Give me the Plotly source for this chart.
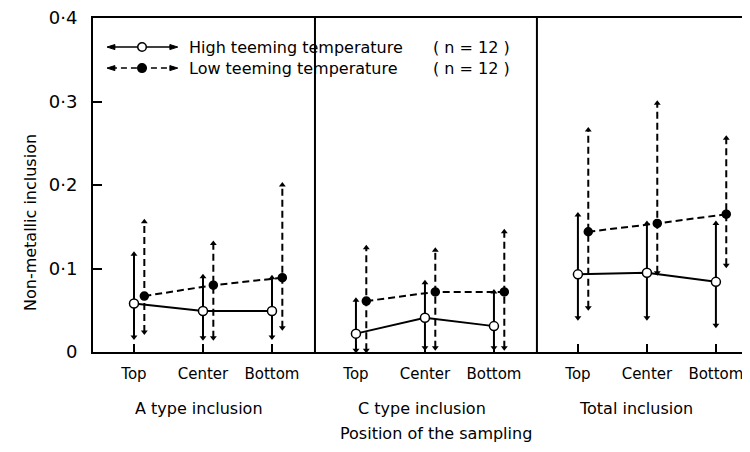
import plotly.graph_objects as go

# ---------------- data ----------------
positions = ["Top", "Center", "Bottom"]
panels = ["A type inclusion", "C type inclusion", "Total inclusion"]

# High teeming temperature (open circles, solid)
high_mean = [[0.058, 0.049, 0.049], [0.022, 0.041, 0.031], [0.093, 0.095, 0.084]]
high_max = [[0.117, 0.090, 0.089], [0.062, 0.083, 0.072], [0.164, 0.154, 0.154]]
high_min = [[0.018, 0.017, 0.018], [0.002, 0.005, 0.005], [0.041, 0.041, 0.032]]

# Low teeming temperature (filled circles, dashed)
low_mean = [[0.067, 0.080, 0.089], [0.061, 0.072, 0.072], [0.144, 0.154, 0.165]]
low_max = [[0.156, 0.130, 0.200], [0.125, 0.122, 0.144], [0.266, 0.298, 0.256]]
low_min = [[0.024, 0.017, 0.029], [0.002, 0.005, 0.005], [0.053, 0.095, 0.104]]

y_ticks = [0, 0.1, 0.2, 0.3, 0.4]
y_ticktext = ["0", "0·1", "0·2", "0·3", "0·4"]

# ---------------- layout geometry ----------------
PANEL_W = 3.217      # width of one panel in x units
LEFT_PAD = 0.594     # space left of first category
LOW_SHIFT = 0.15     # horizontal shift of the low-temperature series
FONT = "DejaVu Sans"

def xs(k, shift=0.0):
    return [k * PANEL_W + i + shift for i in range(len(positions))]

fig = go.Figure()

def add_series(mean, vmax, vmin, shift, dash, fill, name):
    lx, ly, bx, by = [], [], [], []
    upx, upy, dnx, dny = [], [], [], []
    for k in range(len(panels)):
        x = xs(k, shift)
        lx += x + [None]
        ly += mean[k] + [None]
        for xi, lo, hi in zip(x, vmin[k], vmax[k]):
            bx += [xi, xi, None]
            by += [lo, hi, None]
            upx.append(xi); upy.append(hi)
            dnx.append(xi); dny.append(lo)
    # range bars
    fig.add_trace(go.Scatter(x=bx, y=by, mode="lines",
                             line=dict(color="black", width=2, dash=dash),
                             showlegend=False, hoverinfo="skip"))
    # arrow heads
    fig.add_trace(go.Scatter(x=upx, y=upy, mode="markers",
                             marker=dict(symbol="triangle-up", size=6, color="black"),
                             showlegend=False, hoverinfo="skip"))
    fig.add_trace(go.Scatter(x=dnx, y=dny, mode="markers",
                             marker=dict(symbol="triangle-down", size=6, color="black"),
                             showlegend=False, hoverinfo="skip"))
    # mean line with markers
    fig.add_trace(go.Scatter(x=lx, y=ly, mode="lines+markers", name=name,
                             line=dict(color="black", width=2, dash=dash),
                             marker=dict(symbol="circle", size=9 if fill == "white" else 8,
                                         color=fill, line=dict(color="black", width=1.5)),
                             showlegend=False))

add_series(high_mean, high_max, high_min, 0.0, "solid", "white", "High teeming temperature")
add_series(low_mean, low_max, low_min, LOW_SHIFT, "7px,4px", "black", "Low teeming temperature")

tickvals, ticktext = [], []
for k in range(len(panels)):
    tickvals += xs(k)
    ticktext += positions

x_min = -LEFT_PAD
x_max = 8.928

shapes = []
for k in range(1, len(panels)):
    xd = k * PANEL_W - LEFT_PAD
    shapes.append(dict(type="line", xref="x", yref="paper", x0=xd, x1=xd, y0=0, y1=1,
                       line=dict(color="black", width=2)))

# ---- hand-drawn style legend (paper coords) ----
leg_rows = [0.913, 0.850]
leg_x0, leg_x1, leg_xc = 0.0213, 0.129, 0.0746
ah_w, ah_h = 0.012, 0.0075
for row, (yy, dash, fill) in enumerate(zip(leg_rows, ["solid", "6px,4px"], ["white", "black"])):
    shapes.append(dict(type="line", xref="paper", yref="paper", x0=leg_x0 + ah_w * 0.5, x1=leg_x1 - ah_w * 0.5,
                       y0=yy, y1=yy, line=dict(color="black", width=1.5, dash=dash)))
    shapes.append(dict(type="path", xref="paper", yref="paper",
                       path=f"M {leg_x0} {yy} L {leg_x0 + ah_w} {yy + ah_h} L {leg_x0 + ah_w} {yy - ah_h} Z",
                       fillcolor="black", line=dict(color="black", width=1)))
    shapes.append(dict(type="path", xref="paper", yref="paper",
                       path=f"M {leg_x1} {yy} L {leg_x1 - ah_w} {yy + ah_h} L {leg_x1 - ah_w} {yy - ah_h} Z",
                       fillcolor="black", line=dict(color="black", width=1)))
    r = 0.0065
    shapes.append(dict(type="circle", xref="paper", yref="paper",
                       x0=leg_xc - r, x1=leg_xc + r, y0=yy - r * 657 / 334, y1=yy + r * 657 / 334,
                       fillcolor=fill, line=dict(color="black", width=1.5)))

legend_labels = ["High teeming temperature", "Low teeming temperature"]
legend_n = ["( n = 12 )", "( n = 12 )"]

annotations = []
for yy, lab, nlab in zip(leg_rows, legend_labels, legend_n):
    annotations.append(dict(text=lab, xref="paper", yref="paper", x=0.143, y=yy,
                            xanchor="left", yanchor="middle", showarrow=False,
                            font=dict(family=FONT, size=16, color="black")))
    annotations.append(dict(text=nlab, xref="paper", yref="paper", x=0.514, y=yy,
                            xanchor="left", yanchor="middle", showarrow=False,
                            font=dict(family=FONT, size=16, color="black")))

label_shift = [-4, -3, -11]
for k, (p, sh) in enumerate(zip(panels, label_shift)):
    annotations.append(dict(text=p, xref="x", yref="paper", x=k * PANEL_W + 1, y=-0.168,
                            xshift=sh, xanchor="center", yanchor="middle", showarrow=False,
                            font=dict(family=FONT, size=16, color="black")))

annotations.append(dict(text="Position of the sampling", xref="paper", yref="paper",
                        x=0.522, y=-0.243, xanchor="center", yanchor="middle", showarrow=False,
                        font=dict(family=FONT, size=16, color="black")))
annotations.append(dict(text="Non-metallic inclusion", xref="paper", yref="paper",
                        x=-0.096, y=0.389, textangle=-90, xanchor="center", yanchor="middle",
                        showarrow=False, font=dict(family=FONT, size=16, color="black")))

# page body has an ~8px default margin; size figure so the plot lands where the reference has it
fig.update_layout(
    width=742, height=444,
    margin=dict(l=85, r=0, t=10, b=100, autoexpand=False),
    paper_bgcolor="white", plot_bgcolor="white",
    showlegend=False,
    font=dict(family=FONT, color="black"),
    xaxis=dict(range=[x_min, x_max], tickvals=tickvals, ticktext=ticktext,
               showgrid=False, zeroline=False, showline=True, mirror=True,
               linecolor="black", linewidth=2, ticks="inside", ticklen=8,
               tickwidth=1.5, tickcolor="black", ticklabelstandoff=7,
               ticklabeloverflow="allow",
               tickfont=dict(family=FONT, size=15, color="black")),
    yaxis=dict(range=[0, 0.4], tickvals=y_ticks, ticktext=y_ticktext,
               showgrid=False, zeroline=False, showline=True,
               linecolor="black", linewidth=2, ticks="inside", ticklen=9,
               tickwidth=1.5, tickcolor="black", ticklabelstandoff=10,
               ticklabeloverflow="allow",
               tickfont=dict(family=FONT, size=18, color="black")),
    shapes=shapes, annotations=annotations,
)

fig.write_html("out.html")
